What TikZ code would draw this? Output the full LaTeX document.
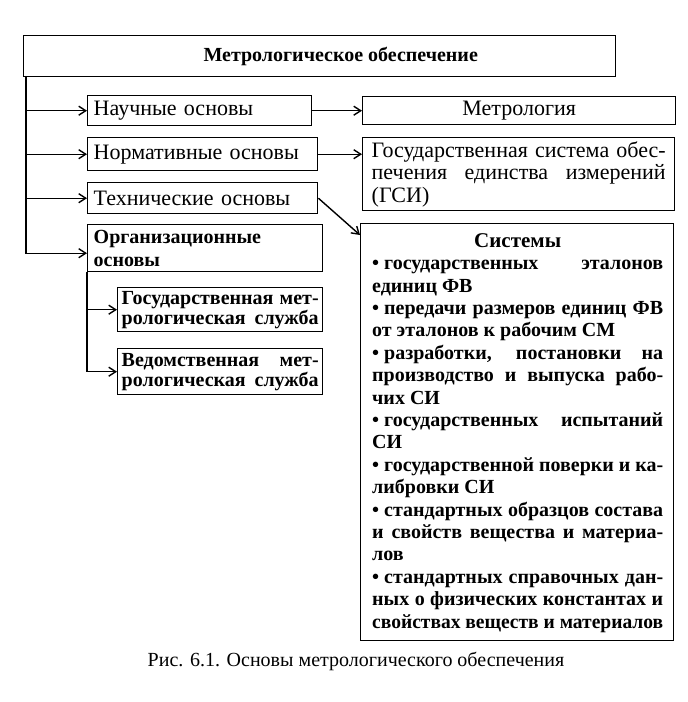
\documentclass[tikz,border=0pt]{standalone}
\usepackage{fontspec}
\usepackage{graphicx}
\setmainfont{Liberation Serif}
\usetikzlibrary{arrows.meta,calc}
\newsavebox\jlbox
\newdimen\jlw
% justified line of width \jlw (squeezed if too long)
\newcommand{\jl}[1]{\setbox\jlbox\hbox{#1}\ifdim\wd\jlbox>\jlw\hbox{\resizebox{\jlw}{\height}{\box\jlbox}}\else\hbox to\jlw{\unhbox\jlbox}\fi}
% left aligned last line
\newcommand{\lftline}[1]{\hbox to\jlw{#1\hfil}}
\newcommand{\lines}[3]{\jlw=#1\relax\vbox{\baselineskip=#2\relax\lineskiplimit=-20pt #3}}
\newcommand{\bul}{•\kern5pt}
\begin{document}
\begin{tikzpicture}[x=1pt,y=-1pt,
  every node/.style={font=\fontsize{22}{23}\selectfont},
  box/.style={draw, line width=1.4pt, rectangle, anchor=north west, inner ysep=0pt},
  txt/.style={inner sep=0pt},
  arr/.style={line width=1.4pt, -{Straight Barb[length=7pt,width=9pt]}}]
\useasboundingbox (0,0) rectangle (688,702);

\node[box, minimum width=592pt, minimum height=41pt, font=\fontsize{20}{24}\selectfont\bfseries] (top) at (23,35) {\hspace*{42pt}Метрологическое обеспечение};

\node[box, minimum width=224pt, minimum height=30pt, text width=212pt, inner xsep=6pt, align=left] (nauch) at (87,95) {Научные основы};
\node[box, minimum width=230pt, minimum height=33pt, text width=218pt, inner xsep=6pt, align=left] (norm) at (87,137) {Нормативные основы};
\node[box, minimum width=230pt, minimum height=31pt, text width=218pt, inner xsep=6pt, align=left] (tech) at (87,182) {Технические основы};
\node[box, minimum width=235pt, minimum height=47pt, inner xsep=6pt, font=\fontsize{20}{23}\selectfont\bfseries] (org) at (87,224) {\lines{223pt}{23pt}{\lftline{Организационные}\lftline{основы}}};

\node[box, minimum width=205pt, minimum height=44pt, inner xsep=4pt, font=\fontsize{20}{22}\selectfont\bfseries] (gms) at (117,287) {\lines{197pt}{20pt}{\jl{Государственная мет-}\jl{рологическая служба}}};
\node[box, minimum width=205pt, minimum height=46pt, inner xsep=4pt, font=\fontsize{20}{22}\selectfont\bfseries] (vms) at (117,348) {\lines{197pt}{20pt}{\jl{Ведомственная мет-}\jl{рологическая служба}}};

\node[box, minimum width=313pt, minimum height=28pt, align=center] (metr) at (362,96) {Метрология};
\node[box, minimum width=312pt, minimum height=73pt, inner xsep=9pt] (gsi) at (362,137) {\lines{294pt}{22.5pt}{\jl{Государственная система обес-}\jl{печения единства измерений}\lftline{(ГСИ)}}};

\node[box, minimum width=313pt, minimum height=417pt] (sys) at (360,223) {};
\node[txt, anchor=base west, font=\fontsize{20}{22}\selectfont\bfseries] (systext) at (372,628) {\lines{291pt}{22.4pt}{%
\hbox to\jlw{\hfil\fontsize{21}{22}\selectfont Системы\hfil}%
\jl{\bul государственных эталонов}%
\lftline{единиц ФВ}%
\jl{\bul передачи размеров единиц ФВ}%
\lftline{от эталонов к рабочим СМ}%
\jl{\bul разработки, постановки на}%
\jl{производство и выпуска рабо-}%
\lftline{чих СИ}%
\jl{\bul государственных испытаний}%
\lftline{СИ}%
\jl{\bul государственной поверки и ка-}%
\lftline{либровки СИ}%
\jl{\bul стандартных образцов состава}%
\jl{и свойств вещества и материа-}%
\lftline{лов}%
\jl{\bul стандартных справочных дан-}%
\jl{ных о физических константах и}%
\jl{свойствах веществ и материалов}}};

\node[font=\fontsize{20}{24}\selectfont] (cap) at (356,661) {Рис. 6.1. Основы метрологического обеспечения};

\coordinate (t0) at ($(top.south west)+(3,0)$);
\coordinate (orgin) at ($(org.west)+(0,5)$);
\coordinate (systip) at ($(sys.north west)+(0,12)$);
\draw[arr] (t0) |- (nauch.west);
\draw[arr] (t0) |- (norm.west);
\draw[arr] (t0) |- (tech.west);
\draw[arr] (t0) |- (orgin);
\draw[arr] (nauch.east) -- (nauch.east -| metr.west);
\draw[arr] (norm.east) -- (norm.east -| gsi.west);
\draw[arr] (tech.east) -- (systip);
\draw[arr] (org.south west) |- (gms.west);
\draw[arr] (org.south west) |- (vms.west);
\end{tikzpicture}
\end{document}
